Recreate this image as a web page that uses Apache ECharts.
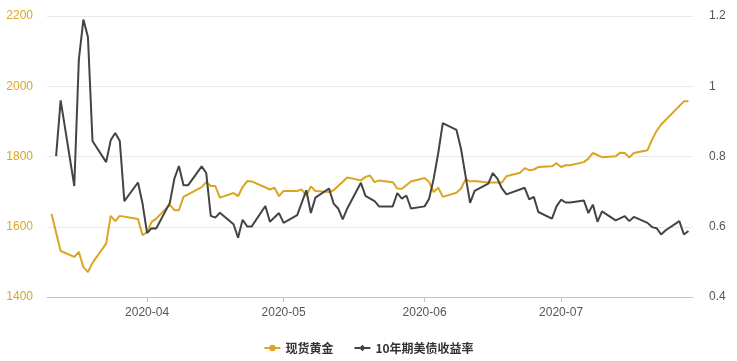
<!DOCTYPE html>
<html>
<head>
<meta charset="utf-8">
<script src="https://cdn.jsdelivr.net/npm/echarts@6/dist/echarts.min.js"></script>
<style>html,body{margin:0;padding:0;background:#fff}#c{width:737px;height:361px}</style>
</head>
<body>
<div id="c"></div>
<script>
var goldDates = ['2020-03-11','2020-03-13','2020-03-16','2020-03-17','2020-03-18','2020-03-19','2020-03-20','2020-03-23','2020-03-24','2020-03-25','2020-03-26','2020-03-30','2020-03-31','2020-04-01','2020-04-02','2020-04-03','2020-04-06','2020-04-07','2020-04-08','2020-04-09','2020-04-13','2020-04-14','2020-04-15','2020-04-16','2020-04-17','2020-04-20','2020-04-21','2020-04-22','2020-04-23','2020-04-24','2020-04-28','2020-04-29','2020-04-30','2020-05-01','2020-05-04','2020-05-05','2020-05-06','2020-05-07','2020-05-08','2020-05-11','2020-05-12','2020-05-15','2020-05-18','2020-05-19','2020-05-20','2020-05-21','2020-05-22','2020-05-25','2020-05-26','2020-05-27','2020-05-29','2020-06-01','2020-06-02','2020-06-03','2020-06-04','2020-06-05','2020-06-08','2020-06-09','2020-06-10','2020-06-11','2020-06-12','2020-06-15','2020-06-18','2020-06-19','2020-06-22','2020-06-23','2020-06-24','2020-06-25','2020-06-26','2020-06-29','2020-06-30','2020-07-01','2020-07-02','2020-07-03','2020-07-06','2020-07-07','2020-07-08','2020-07-10','2020-07-13','2020-07-14','2020-07-15','2020-07-16','2020-07-17','2020-07-20','2020-07-21','2020-07-22','2020-07-23','2020-07-28','2020-07-29'];
var goldValues = [1636,1531,1514,1528,1485,1471,1497,1552,1631,1616,1631,1622,1576,1585,1614,1623,1663,1647,1647,1685,1713,1727,1716,1716,1683,1696,1687,1713,1730,1729,1706,1711,1687,1702,1702,1706,1688,1715,1702,1699,1704,1740,1732,1742,1746,1727,1732,1727,1709,1708,1729,1739,1727,1699,1711,1685,1697,1709,1735,1729,1730,1726,1726,1744,1754,1767,1761,1763,1770,1772,1781,1770,1775,1775,1784,1794,1810,1798,1801,1811,1810,1797,1810,1818,1848,1873,1891,1957,1957];

var bondDates = ['2020-03-12','2020-03-13','2020-03-16','2020-03-17','2020-03-18','2020-03-19','2020-03-20','2020-03-23','2020-03-24','2020-03-25','2020-03-26','2020-03-27','2020-03-30','2020-03-31','2020-04-01','2020-04-02','2020-04-03','2020-04-06','2020-04-07','2020-04-08','2020-04-09','2020-04-10','2020-04-13','2020-04-14','2020-04-15','2020-04-16','2020-04-17','2020-04-20','2020-04-21','2020-04-22','2020-04-23','2020-04-24','2020-04-27','2020-04-28','2020-04-30','2020-05-01','2020-05-04','2020-05-06','2020-05-07','2020-05-08','2020-05-11','2020-05-12','2020-05-13','2020-05-14','2020-05-15','2020-05-18','2020-05-19','2020-05-21','2020-05-22','2020-05-25','2020-05-26','2020-05-27','2020-05-28','2020-05-29','2020-06-01','2020-06-02','2020-06-03','2020-06-04','2020-06-05','2020-06-08','2020-06-09','2020-06-11','2020-06-12','2020-06-15','2020-06-16','2020-06-17','2020-06-18','2020-06-19','2020-06-23','2020-06-24','2020-06-25','2020-06-26','2020-06-29','2020-06-30','2020-07-01','2020-07-02','2020-07-03','2020-07-06','2020-07-07','2020-07-08','2020-07-09','2020-07-10','2020-07-13','2020-07-15','2020-07-16','2020-07-17','2020-07-20','2020-07-21','2020-07-22','2020-07-23','2020-07-24','2020-07-27','2020-07-28','2020-07-29'];
var bondValues = [0.801,0.960,0.716,1.076,1.190,1.140,0.844,0.784,0.846,0.867,0.844,0.673,0.726,0.666,0.582,0.596,0.595,0.668,0.737,0.773,0.718,0.718,0.772,0.753,0.631,0.626,0.640,0.607,0.569,0.620,0.601,0.601,0.659,0.614,0.639,0.611,0.633,0.704,0.639,0.683,0.709,0.666,0.652,0.621,0.652,0.725,0.688,0.673,0.658,0.658,0.696,0.680,0.689,0.652,0.658,0.680,0.737,0.810,0.895,0.876,0.822,0.668,0.702,0.723,0.753,0.737,0.709,0.692,0.711,0.678,0.685,0.642,0.623,0.658,0.677,0.669,0.669,0.675,0.639,0.663,0.614,0.644,0.618,0.630,0.616,0.628,0.611,0.599,0.596,0.578,0.590,0.616,0.578,0.588];

var seriesNames = ['现货黄金','10年期美债收益率'];
var goldColor = '#DAA520';
var bondColor = '#444444';

function zip(a,b){ return a.map(function(d,i){ return [d,b[i]]; }); }

var chart = echarts.init(document.getElementById('c'));
chart.setOption({
  animation: false,
  grid: {left: 47, right: 44, top: 16, bottom: 64},
  legend: {
    bottom: 2, left: 'center', itemGap: 20, itemWidth: 16, itemHeight: 8,
    textStyle: {fontSize: 12, fontWeight: 'bold', color: '#333', fontFamily: 'Noto Sans CJK SC'},
    data: seriesNames
  },
  xAxis: {
    type: 'time',
    min: '2020-03-10', max: '2020-07-30',
    splitNumber: 4,
    axisLine: {lineStyle: {color: '#b9c6d8'}},
    axisTick: {show: true, lineStyle: {color: '#b9c6d8'}},
    splitLine: {show: false},
    axisLabel: {color: '#555', fontSize: 12, margin: 10, formatter: '{yyyy}-{MM}', showMinLabel: false, showMaxLabel: false}
  },
  yAxis: [{
    type: 'value', min: 1400, max: 2200, interval: 200,
    axisLine: {show: false}, axisTick: {show: false},
    splitLine: {lineStyle: {color: '#e8e8e8'}},
    axisLabel: {color: '#DAA520', fontSize: 12, margin: 14, formatter: function(v){ return String(v); }}
  }, {
    type: 'value', min: 0.4, max: 1.2, interval: 0.2,
    axisLine: {show: false}, axisTick: {show: false},
    splitLine: {show: false},
    axisLabel: {color: '#555', fontSize: 12, margin: 16, formatter: function(v){ return String(+v.toFixed(1)); }}
  }],
  series: [{
    name: seriesNames[0], type: 'line', yAxisIndex: 0, showSymbol: false, symbol: 'circle', symbolSize: 8,
    data: zip(goldDates, goldValues),
    lineStyle: {width: 2, color: goldColor}, itemStyle: {color: goldColor}
  }, {
    name: seriesNames[1], type: 'line', yAxisIndex: 1, showSymbol: false, symbol: 'diamond', symbolSize: 8,
    data: zip(bondDates, bondValues),
    lineStyle: {width: 2, color: bondColor}, itemStyle: {color: bondColor}
  }]
});
</script>
</body>
</html>
